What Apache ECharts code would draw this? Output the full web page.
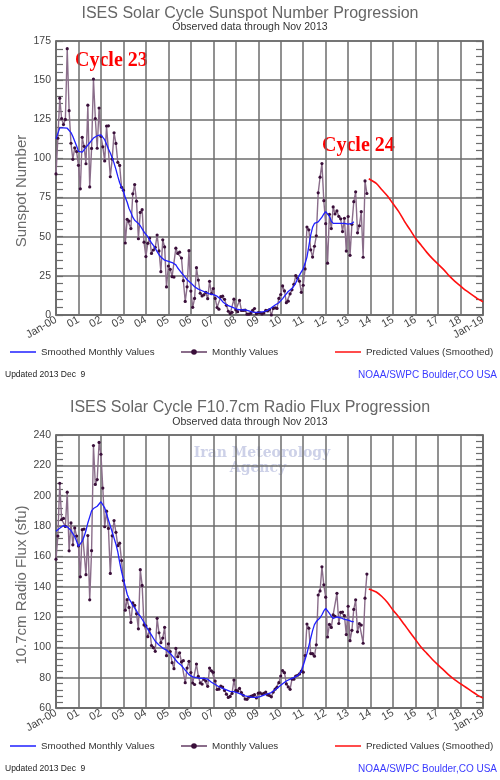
<!DOCTYPE html>
<html><head><meta charset="utf-8">
<script src="https://cdn.jsdelivr.net/npm/echarts@6/dist/echarts.min.js"></script>
<style>html,body{margin:0;padding:0;background:#fff}#c{width:500px;height:780px}</style>
</head><body><div id="c"></div>
<script>
// ---- data ----
const startYear = 2000;
const yearTicks = ['Jan-00','01','02','03','04','05','06','07','08','09','10','11','12','13','14','15','16','17','18','Jan-19'];
const ssnTicks = [0,25,50,75,100,125,150,175];
const fluxTicks = [60,80,100,120,140,160,180,200,220,240];

// Monthly sunspot number, Jan 2000 .. Nov 2013
const ssnMonthly = [
90.1,112.9,138.5,125.5,121.6,124.9,170.1,130.5,109.7,99.4,106.8,104.4,
95.6,80.6,113.5,107.7,96.6,134.0,81.8,106.4,150.7,125.5,106.5,132.2,
114.1,107.4,98.4,120.7,120.8,88.3,99.6,116.4,109.6,97.5,95.5,81.6,
79.7,46.0,61.1,60.0,55.2,77.4,83.3,72.7,48.7,65.5,67.3,46.5,
37.3,45.8,49.1,39.3,41.5,43.2,51.1,40.9,27.7,48.0,43.5,17.9,
31.3,29.2,24.5,24.2,42.7,39.3,40.1,36.4,21.9,8.7,18.0,41.1,
15.3,4.9,10.6,30.2,22.3,13.9,12.2,12.9,14.4,10.4,21.5,13.6,
16.9,10.6,4.8,3.7,11.7,12.0,10.0,6.2,2.4,0.9,1.7,10.1,
3.3,2.1,9.3,2.9,2.9,3.1,0.5,0.5,1.1,2.9,4.1,0.8,
1.5,1.4,0.7,1.2,2.9,2.6,3.5,0.0,4.2,4.6,4.2,10.6,
13.1,18.6,15.4,7.9,8.8,13.5,16.1,19.6,25.2,23.5,21.6,14.5,
19.0,29.4,56.2,54.4,41.6,37.0,43.9,50.6,78.0,88.0,96.7,73.0,
58.3,33.1,64.3,55.2,69.0,64.5,66.5,63.0,61.4,53.3,61.8,40.8,
62.9,38.1,57.9,72.4,78.7,52.5,57.0,66.0,36.9,85.6,77.6
];
// Smoothed sunspot number, Jan 2000 .. Apr 2013
const ssnSmoothed = [
112.5,116.0,119.5,120.5,119.5,119.0,119.3,118.6,116.5,114.0,111.0,108.0,
104.5,103.5,104.0,105.5,107.0,108.5,110.0,111.5,113.0,114.0,114.5,115.0,
115.0,113.5,112.0,109.0,106.0,103.5,100.5,97.0,93.0,88.5,84.5,81.5,
79.0,75.0,72.0,68.0,65.5,62.5,60.5,59.5,58.5,57.0,55.0,53.0,
52.0,50.0,48.0,46.0,44.5,42.5,40.5,38.5,37.0,36.0,35.0,34.6,
34.3,34.0,33.5,33.0,32.0,30.0,28.5,27.0,25.5,24.0,22.5,21.5,
20.5,19.5,18.0,17.0,16.5,16.0,15.5,15.0,14.5,14.0,13.5,13.0,
13.0,12.5,12.0,11.0,10.0,8.5,7.5,6.5,6.0,5.5,5.0,4.5,
3.8,3.5,3.3,3.3,3.4,3.2,2.9,2.6,2.3,1.8,1.7,1.7,
1.8,1.9,2.0,2.2,2.5,3.0,3.8,4.6,5.4,6.4,7.0,7.8,
8.5,10.5,12.0,13.5,15.0,16.0,17.0,18.5,20.5,23.0,25.5,27.5,
29.5,33.0,37.0,44.0,51.0,56.0,58.5,59.0,59.5,60.5,62.5,64.5,
66.0,65.0,63.0,60.0,58.5,58.5,58.5,59.0,58.5,58.5,58.5,58.0,
58.0,58.0,58.5,59.5
];
// Monthly F10.7 flux, Jan 2000 .. Nov 2013
const fluxMonthly = [
158.1,173.4,208.2,184.3,185.0,179.7,202.3,163.6,182.0,167.6,178.7,173.4,
166.8,146.5,177.6,178.0,147.9,173.7,131.3,163.7,233.0,207.4,210.6,235.1,
227.3,205.0,179.5,189.8,178.4,148.7,173.5,183.6,175.8,167.0,168.7,157.2,
144.0,124.5,131.4,126.3,116.4,129.4,127.7,122.1,112.2,151.2,140.8,114.8,
114.1,107.0,112.0,101.2,99.8,97.4,119.1,109.6,103.1,106.1,113.2,94.5,
102.3,97.2,89.9,85.9,99.3,93.8,96.4,90.4,91.2,76.7,86.3,90.8,
83.4,76.5,75.5,89.0,80.9,76.5,75.8,79.0,77.8,74.3,86.3,84.5,
83.5,77.8,72.2,72.4,74.4,73.8,71.6,69.1,67.0,67.6,69.6,78.4,
71.6,71.1,72.9,70.2,68.4,65.9,65.7,67.2,67.7,68.2,68.8,66.6,
69.8,70.0,69.2,69.7,70.5,68.6,68.2,67.4,70.5,72.4,73.6,76.7,
81.1,84.7,83.3,75.9,73.9,72.3,79.1,79.0,81.1,81.6,82.5,84.3,
83.6,94.6,115.4,112.6,95.9,95.8,94.2,101.7,134.5,137.2,153.1,141.2,
133.1,106.8,115.1,113.1,121.5,120.5,135.6,115.7,123.1,123.3,120.9,108.4,
127.1,104.4,111.2,125.0,131.3,110.2,115.6,114.7,102.7,132.4,148.3
];
// Smoothed F10.7 flux, Jan 2000 .. Apr 2013
const fluxSmoothed = [
176.5,177.5,178.5,179.5,180.3,180.0,179.5,178.7,177.0,175.0,173.0,170.0,
166.5,167.0,170.0,173.0,177.0,182.0,186.0,190.0,191.5,192.5,193.0,194.0,
196.0,197.0,192.0,188.0,184.0,180.0,176.0,172.0,168.0,163.0,156.0,150.0,
145.0,140.0,135.0,132.0,130.0,127.5,126.0,124.0,122.0,120.5,118.5,116.5,
114.0,112.0,110.0,108.0,106.0,104.0,102.7,101.5,100.5,99.5,99.0,98.2,
97.0,96.0,94.5,93.0,91.5,90.0,89.0,88.0,86.5,85.0,83.5,82.0,
81.0,80.5,80.0,80.0,79.8,79.6,79.6,79.5,79.3,79.0,78.0,77.0,
76.0,75.5,75.0,74.0,73.5,73.0,72.5,72.0,71.5,71.0,71.0,70.8,
70.5,70.0,69.5,69.0,68.5,68.0,67.5,67.5,67.2,67.0,67.0,67.0,
67.2,67.5,68.0,68.5,69.0,69.3,69.7,70.2,71.0,72.0,73.0,74.0,
75.0,76.0,77.0,77.8,78.5,79.0,79.5,80.0,80.6,81.3,82.0,84.0,
88.0,92.0,96.0,101.0,106.0,111.0,115.0,117.0,118.0,119.5,121.5,124.0,
125.7,124.5,122.4,120.5,119.1,119.5,120.0,120.2,119.5,119.0,118.5,118.0,
118.0,117.5,117.0,117.0
];
// Predicted (smoothed) values, Dec 2013 .. Jan 2019
const predYears = [2013.917,2014.25,2014.5,2014.75,2015.0,2015.25,2015.5,2015.75,2016.0,2016.25,2016.5,2016.75,2017.0,2017.25,2017.5,2017.75,2018.0,2018.25,2018.5,2018.75,2019.0];
const predSSN  = [87,84,80,76,71,66,60,54.5,49,44.5,40,36,32.5,29,25,21.5,18.5,15.5,13,10.5,8.5];
const predFlux = [138.5,136.5,133.5,129.5,124.5,120,115,110,105,100,96,92,88.4,85,81.5,78.5,76,73.5,71,68.5,66.5];

// ---- build ----
const monthSeries = arr => arr.map((v,i)=>[startYear + i/12, v]);
const predSeries = arr => arr.map((v,i)=>[predYears[i], v]);

const GRID = '#6c6c6c';
const LBL = '#444';
const FONT = 'Liberation Sans';

function xAxisFor(gi){
  return {
    type:'value', gridIndex:gi, min:2000, max:2019, interval:1,
    axisLine:{show:true,lineStyle:{color:GRID,width:1.5}},
    axisTick:{show:false},
    splitLine:{show:true,lineStyle:{color:GRID,width:1.5}},
    axisLabel:{rotate:30, margin:4, color:LBL, fontSize:11, fontFamily:FONT,
      showMinLabel:true, showMaxLabel:true,
      formatter:v=>yearTicks[Math.round(v-startYear)]}
  };
}
function yAxisFor(gi, ticks, pos){
  const left = pos==='left';
  return {
    type:'value', gridIndex:gi, position:pos,
    min:ticks[0], max:ticks[ticks.length-1], interval:ticks[1]-ticks[0],
    axisLine:{show:true,lineStyle:{color:GRID,width:1.5}},
    axisTick:{show:true,inside:true,length:7,lineStyle:{color:GRID,width:1.2}},
    minorTick:{show:true,splitNumber:5,length:7,lineStyle:{color:GRID,width:1.2}},
    splitLine:{show:left,lineStyle:{color:GRID,width:1.5}},
    axisLabel:{show:left, margin:5, color:LBL, fontSize:10.5, fontFamily:FONT}
  };
}
function legendFor(name, left, top, plain){
  const lg = {data:[name], left:left, top:top, padding:0, itemWidth:26, itemHeight:7, itemGap:0,
    selectedMode:false, textStyle:{color:'#333', fontSize:9.8, fontFamily:FONT, padding:[0,0,0,0]}};
  if (plain){ lg.icon = 'rect'; lg.itemHeight = 1.5; }
  return lg;
}
const monthlyStyle = {type:'line', symbol:'circle', symbolSize:3.2, showSymbol:true,
  lineStyle:{color:'#8a6d8a',width:1.4}, itemStyle:{color:'#3a0f3a'}, emphasis:{disabled:true}, z:2};
const smoothStyle = {type:'line', symbol:'none', lineStyle:{color:'#1f1fff',width:1.3}, itemStyle:{color:'#1f1fff'}, z:3};
const predStyle = {type:'line', symbol:'none', smooth:0.3, lineStyle:{color:'#ff1010',width:1.6}, itemStyle:{color:'#ff1010'}, z:3};

function txt(text, x, y, font, fill, align, extra){
  return Object.assign({type:'text', x:x, y:y, silent:true,
    style:{text:text, font:font, fill:fill, textAlign:align||'left', textVerticalAlign:'middle'}}, extra||{});
}

const option = {
  animation:false,
  grid:[
    {left:56, top:41, width:427, height:274, show:true, borderColor:GRID, borderWidth:1.5},
    {left:56, top:435, width:427, height:273, show:true, borderColor:GRID, borderWidth:1.5}
  ],
  xAxis:[xAxisFor(0), xAxisFor(1)],
  yAxis:[yAxisFor(0,ssnTicks,'left'), yAxisFor(0,ssnTicks,'right'), yAxisFor(1,fluxTicks,'left'), yAxisFor(1,fluxTicks,'right')],
  legend:[
    legendFor('Smoothed Monthly Values',10,347,true),
    legendFor('Monthly Values',180,347,false),
    legendFor('Predicted Values (Smoothed)',335,347,true),
    legendFor('Smoothed Monthly Values',10,741,true),
    legendFor('Monthly Values',180,741,false),
    legendFor('Predicted Values (Smoothed)',335,741,true)
  ],
  series:[
    Object.assign({name:'Monthly Values', xAxisIndex:0, yAxisIndex:0, data:monthSeries(ssnMonthly)}, monthlyStyle),
    Object.assign({name:'Smoothed Monthly Values', xAxisIndex:0, yAxisIndex:0, data:monthSeries(ssnSmoothed)}, smoothStyle),
    Object.assign({name:'Predicted Values (Smoothed)', xAxisIndex:0, yAxisIndex:0, data:predSeries(predSSN)}, predStyle),
    Object.assign({name:'Monthly Values', xAxisIndex:1, yAxisIndex:2, data:monthSeries(fluxMonthly)}, monthlyStyle),
    Object.assign({name:'Smoothed Monthly Values', xAxisIndex:1, yAxisIndex:2, data:monthSeries(fluxSmoothed)}, smoothStyle),
    Object.assign({name:'Predicted Values (Smoothed)', xAxisIndex:1, yAxisIndex:2, data:predSeries(predFlux)}, predStyle)
  ],
  graphic:[
    txt('ISES Solar Cycle Sunspot Number Progression',250,14,'16px "Liberation Sans"','#666','center'),
    txt('Observed data through Nov 2013',250,27,'10.5px "Liberation Sans"','#333','center'),
    txt('Sunspot Number',22,191,'15px "Liberation Sans"','#6a6a6a','center',{rotation:Math.PI/2}),
    txt('Cycle 23',75,61,'bold 20px "Liberation Serif"','#ff0000','left'),
    txt('Cycle 24',322,146,'bold 20px "Liberation Serif"','#ff0000','left'),
    txt('Updated 2013 Dec  9',5,375,'8.5px "Liberation Sans"','#222','left'),
    txt('NOAA/SWPC Boulder,CO USA',497,375,'10px "Liberation Sans"','#3a3aff','right'),
    txt('ISES Solar Cycle F10.7cm Radio Flux Progression',250,408,'16px "Liberation Sans"','#666','center'),
    txt('Observed data through Nov 2013',250,422,'10.5px "Liberation Sans"','#333','center'),
    txt('Iran Meteorology',262,453,'bold 14px "DejaVu Serif"','#cdd1e8','center'),
    txt('Agency',258,468,'bold 14px "DejaVu Serif"','#cdd1e8','center'),
    txt('10.7cm Radio Flux (sfu)',22,585,'15px "Liberation Sans"','#6a6a6a','center',{rotation:Math.PI/2}),
    txt('Updated 2013 Dec  9',5,769,'8.5px "Liberation Sans"','#222','left'),
    txt('NOAA/SWPC Boulder,CO USA',497,769,'10px "Liberation Sans"','#3a3aff','right')
  ]
};
echarts.init(document.getElementById('c'),null,{renderer:'canvas'}).setOption(option);
</script></body></html>
